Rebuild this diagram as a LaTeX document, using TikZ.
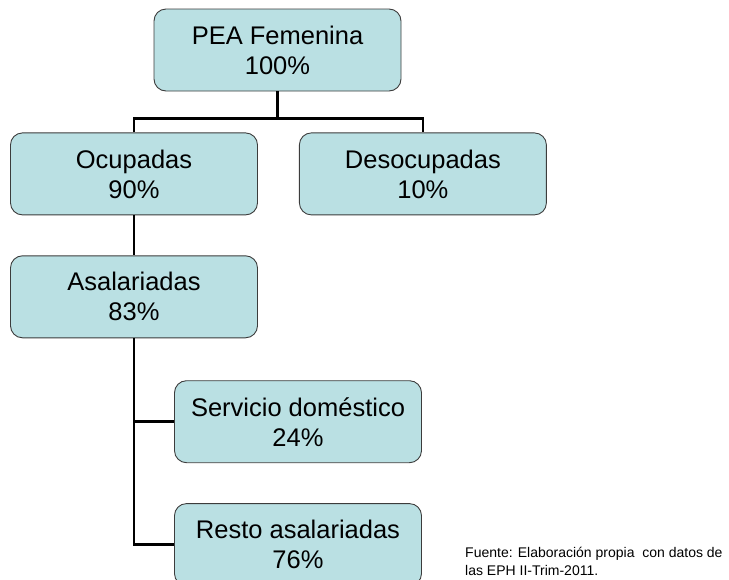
\documentclass[tikz,border=0pt]{standalone}
\usepackage{fontspec}
\setmainfont{Liberation Sans}
\usepackage{xcolor}
\usepackage{tikz}
\usetikzlibrary{positioning, calc}

\definecolor{celeste}{RGB}{186,224,227}
\definecolor{borde}{RGB}{60,60,60}

\begin{document}
\begin{tikzpicture}[x=1pt, y=-1pt,
    caja/.style={draw=borde, line width=0.9pt, rounded corners=12pt, fill=celeste,
        minimum width=247pt, minimum height=82pt, align=center, inner sep=0pt,
        font=\fontsize{25.5}{30}\selectfont},
    conector/.style={line width=2.6pt, black}]
    \useasboundingbox (0,0) rectangle (729,579);
    \node[caja] (pea) at (277.5,50) {PEA Femenina\\100\%};

    \node[caja, below=41pt of pea, xshift=-143.5pt] (ocupadas) {Ocupadas\\90\%};
    \node[caja, right=41pt of ocupadas] (desocupadas) {Desocupadas\\10\%};

    \node[caja, below=40pt of ocupadas] (asalariadas) {Asalariadas\\83\%};

    \node[caja, below=42pt of asalariadas, xshift=164pt] (servicio) {Servicio doméstico\\24\%};
    \node[caja, below=40pt of servicio] (resto) {Resto asalariadas\\76\%};

    \node[anchor=north west, align=left, inner sep=0pt, font=\fontsize{14}{17.5}\selectfont] (fuente) at (465,547)
        {Fuente: Elaboración propia~ con datos de\\las EPH II-Trim-2011.};

    \coordinate (reparto) at ($(pea.south)+(0,-27pt)$);
    \draw[conector] (pea.south) -- (reparto);
    \draw[conector] (ocupadas.north) |- (reparto) -| (desocupadas.north);

    \draw[conector] (ocupadas.south) -- (asalariadas.north);
    \draw[conector] (asalariadas.south) |- (servicio.west);
    \draw[conector] (asalariadas.south) |- (resto.west);
\end{tikzpicture}
\end{document}
